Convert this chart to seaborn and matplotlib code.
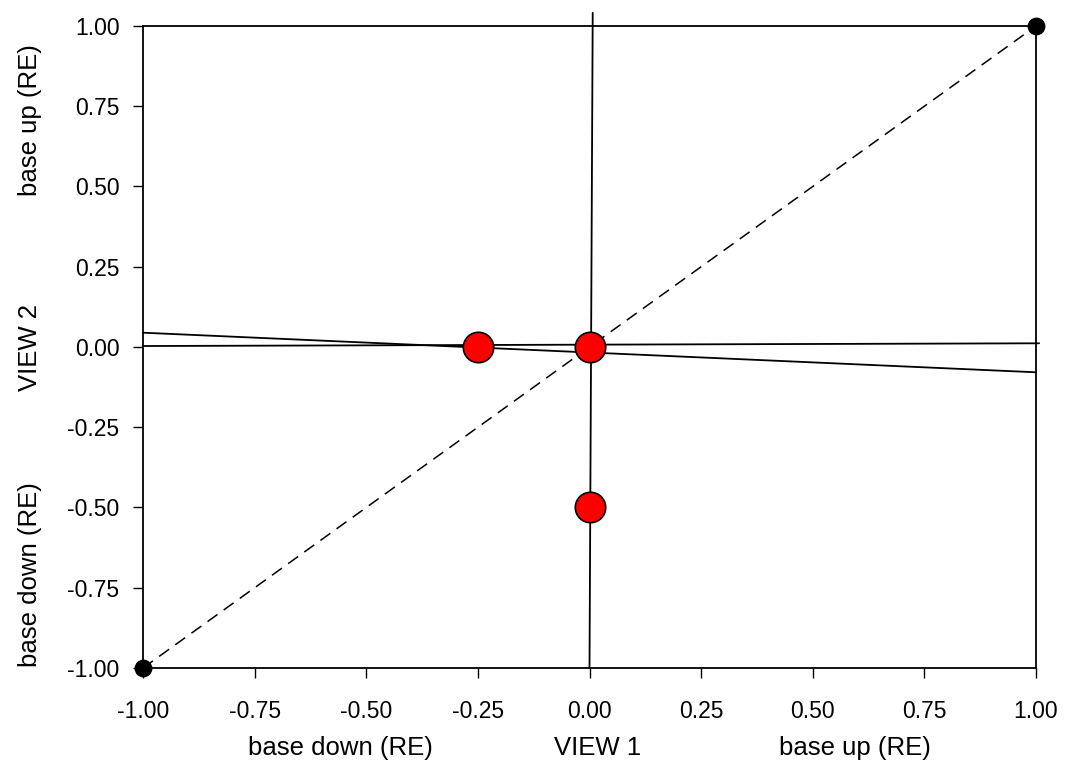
import matplotlib
matplotlib.use("Agg")
from matplotlib import pyplot as plt
import seaborn as sns
import pandas as pd
import numpy as np

# red points
pts_x = [-0.25, 0.0, 0.0]
pts_y = [0.0, 0.0, -0.5]
# black corner points
corner_x = [-1.0, 1.0]
corner_y = [-1.0, 1.0]
# identity (dashed) line
diag_x = [-1.0, 1.0]
diag_y = [-1.0, 1.0]
# fitted lines
lineA_x = [0.0, 0.0072]
lineA_y = [-1.0, 1.041]
lineB_x = [-1.0, 1.007]
lineB_y = [0.003, 0.0115]
lineC_x = [-1.0, 1.0]
lineC_y = [0.0445, -0.0788]

ticks = [-1.0, -0.75, -0.5, -0.25, 0.0, 0.25, 0.5, 0.75, 1.0]

sns.set_style("white")
plt.rcParams['font.family'] = ['Liberation Sans', 'DejaVu Sans']
plt.rcParams['axes.unicode_minus'] = False

fig = plt.figure(figsize=(10.69, 7.83), dpi=100)
ax = fig.add_axes([0.1338, 0.1469, 0.9691 - 0.1338, 0.9668 - 0.1469])

ax.plot(diag_x, diag_y, color="black", lw=1.1, dashes=(8, 5), zorder=2)
ax.plot(lineA_x, lineA_y, color="black", lw=1.3, clip_on=False, zorder=2)
ax.plot(lineB_x, lineB_y, color="black", lw=1.3, clip_on=False, zorder=2)
ax.plot(lineC_x, lineC_y, color="black", lw=1.3, clip_on=False, zorder=2)

sns.scatterplot(x=corner_x, y=corner_y, ax=ax, color="black", s=165,
                edgecolor="black", linewidth=0, zorder=4, clip_on=False)
sns.scatterplot(x=pts_x, y=pts_y, ax=ax, color="red", s=480,
                edgecolor="black", linewidth=1.2, zorder=5, clip_on=False)

ax.set_xlim(-1, 1)
ax.set_ylim(-1, 1)
ax.set_xticks(ticks)
ax.set_yticks(ticks)
ax.set_xticklabels([f"{t:.2f}" for t in ticks])
ax.set_yticklabels([f"{t:.2f}" for t in ticks])
ax.tick_params(axis="x", direction="out", length=7, width=1, pad=16,
               labelsize=16.5, bottom=True, color="black", labelcolor="black")
ax.tick_params(axis="y", direction="out", length=7, width=1, pad=10,
               labelsize=16.5, left=True, color="black", labelcolor="black")
for s in ax.spines.values():
    s.set_visible(True)
    s.set_color("black")
    s.set_linewidth(1.3)

# axis labels split in three parts
lab = dict(ha="center", va="center", fontsize=18.5, color="black")
fig.text(340 / 1069, 1 - 748 / 783, "base down (RE)", **lab)
fig.text(598 / 1069, 1 - 748 / 783, "VIEW 1", **lab)
fig.text(855 / 1069, 1 - 748 / 783, "base up (RE)", **lab)
fig.text(30 / 1069, 1 - 120 / 783, "base up (RE)", rotation=90, **lab)
fig.text(30 / 1069, 1 - 347 / 783, "VIEW 2", rotation=90, **lab)
fig.text(30 / 1069, 1 - 575 / 783, "base down (RE)", rotation=90, **lab)

plt.savefig("out.png", dpi=100)
